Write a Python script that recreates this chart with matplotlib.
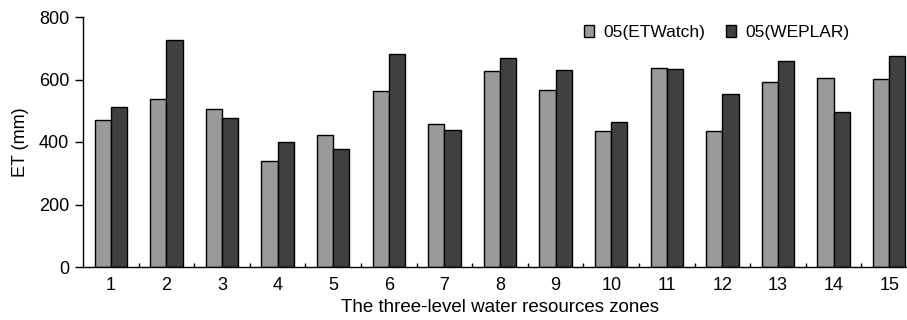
import numpy as np
import matplotlib.pyplot as plt
from matplotlib.ticker import FixedLocator, NullFormatter

plt.rcParams['font.family'] = ['Liberation Sans', 'DejaVu Sans']

# ET des 15 zones (lecture sur la figure)
zones = [str(i) for i in range(1, 16)]
et_etwatch = [472, 539, 505, 340, 423, 563, 458, 627, 565, 436, 636, 435, 591, 605, 603]
et_weplar = [512, 726, 477, 399, 377, 681, 438, 670, 632, 465, 634, 553, 660, 497, 674]

x = np.arange(1, len(zones) + 1)
w = 0.29

fig = plt.figure(figsize=(9.07, 3.2), dpi=100)
ax = fig.add_axes([83 / 907, 1 - 267 / 320, (917 - 83) / 907, 250 / 320])

ax.bar(x - w / 2, et_etwatch, w, color='#9a9a9a', edgecolor='black', linewidth=1.0,
       label='05(ETWatch)')
ax.bar(x + w / 2, et_weplar, w, color='#404040', edgecolor='black', linewidth=1.0,
       label='05(WEPLAR)')

ax.set_xlim(0.5, 15.5)
ax.set_ylim(0, 800)
ax.set_yticks([0, 200, 400, 600, 800])
ax.set_xticks(x)
ax.set_xticklabels(zones)
ax.xaxis.set_minor_locator(FixedLocator(np.arange(1.5, 15.5, 1)))
ax.xaxis.set_minor_formatter(NullFormatter())
ax.tick_params(axis='x', which='major', length=0, pad=7, labelsize=13)
ax.tick_params(axis='x', which='minor', direction='in', length=3, width=1)
ax.tick_params(axis='y', direction='out', length=6, width=1, labelsize=13, pad=4)

for s in ['top', 'right']:
    ax.spines[s].set_visible(False)
ax.spines['left'].set_linewidth(1.0)
ax.spines['bottom'].set_linewidth(1.0)

ax.set_ylabel('ET (mm)', fontsize=13, labelpad=7)
ax.set_xlabel('The three-level water resources zones', fontsize=13.5, labelpad=4)

ax.legend(loc='upper left', bbox_to_anchor=(0.582, 1.03), ncol=2, frameon=False,
          fontsize=12.5, handlelength=0.6, handleheight=0.6, handletextpad=0.5,
          columnspacing=1.2)

fig.savefig('out.png', dpi=100)
